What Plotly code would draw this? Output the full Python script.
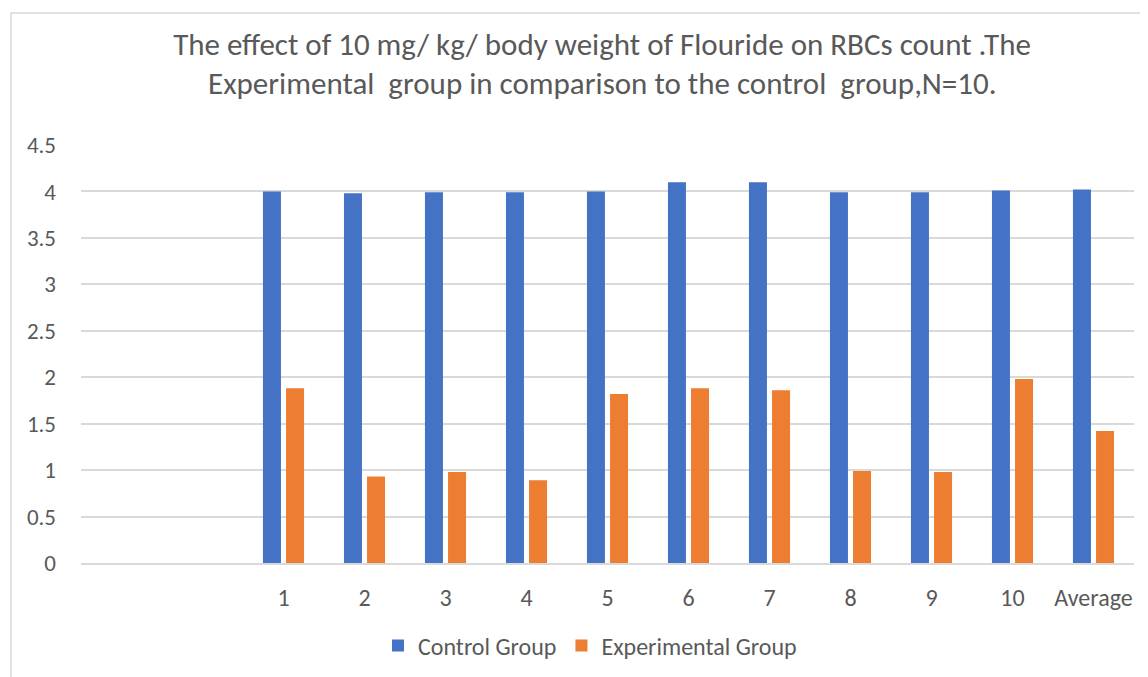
import plotly.graph_objects as go

categories = ["1", "2", "3", "4", "5", "6", "7", "8", "9", "10", "Average"]
blank_slots = [" ", "  "]
control = [4.00, 3.98, 3.99, 3.99, 4.00, 4.10, 4.10, 3.99, 3.99, 4.01, 4.02]
experimental = [1.88, 0.93, 0.98, 0.89, 1.82, 1.88, 1.86, 0.99, 0.98, 1.98, 1.42]
y_ticks = [0, 0.5, 1, 1.5, 2, 2.5, 3, 3.5, 4, 4.5]
y_ticktext = ["0", "0.5", "1", "1.5", "2", "2.5", "3", "3.5", "4", "4.5"]
title_line1 = "The effect of 10 mg/ kg/ body weight of Flouride on RBCs count .The"
title_line2 = "Experimental  group in comparison to the control  group,N=10."

FONT = "Carlito, Calibri, Lato, sans-serif"
GREY = "#595959"

fig = go.Figure()
fig.add_trace(go.Bar(name="Control Group", x=categories, y=control,
                     marker=dict(color="#4472C4", line=dict(width=0))))
fig.add_trace(go.Bar(name="Experimental Group", x=categories, y=experimental,
                     marker=dict(color="#ED7D31", line=dict(width=0))))

OFF = 8  # page body margin
W, H = 1140, 669
L, R, T, B = 73, 14, 137, 114
pw, ph = W - L - R, H - T - B

def px(xp):
    return (xp - OFF - L) / pw

def py(yp):
    return (H - B - (yp - OFF)) / ph

fig.update_layout(
    width=W, height=H,
    margin=dict(l=L, r=R, t=T, b=B, autoexpand=False),
    paper_bgcolor="white", plot_bgcolor="white",
    barmode="group", bargap=0.43, bargroupgap=0.22,
    font=dict(family=FONT, color=GREY),
    title=dict(
        text=title_line1,
        x=px(602), xref="paper", xanchor="center",
        y=1 - (44 - OFF) / H, yref="container", yanchor="middle",
        font=dict(family=FONT, size=31, color=GREY),
    ),
    annotations=[dict(
        text=title_line2, showarrow=False,
        x=px(602), xref="paper", xanchor="center",
        y=py(83), yref="paper", yanchor="middle",
        font=dict(family=FONT, size=31, color=GREY),
    )],
    xaxis=dict(
        type="category", categoryorder="array",
        categoryarray=blank_slots + categories,
        range=[-0.5, 12.5],
        showgrid=False, showline=True, linecolor="#d9d9d9", linewidth=1.5,
        ticks="", tickfont=dict(size=24, color=GREY), zeroline=False,
        ticklabelstandoff=12,
    ),
    yaxis=dict(
        range=[0, 4.5], tickvals=y_ticks, ticktext=y_ticktext,
        showgrid=True, gridcolor="#d9d9d9", gridwidth=1.5,
        zeroline=False, showline=False, ticks="",
        tickfont=dict(size=23, color=GREY), ticklabelstandoff=24,
    ),
    legend=dict(
        orientation="h", x=px(590), xanchor="center",
        y=py(646), yanchor="middle",
        font=dict(size=24, color=GREY), traceorder="normal",
    ),
    shapes=[dict(type="rect", xref="paper", yref="paper",
                 x0=px(11), x1=px(1170), y0=py(700), y1=py(13),
                 line=dict(color="#d9d9d9", width=1.5), fillcolor="rgba(0,0,0,0)",
                 layer="below")],
)

fig.write_html("out.html")
